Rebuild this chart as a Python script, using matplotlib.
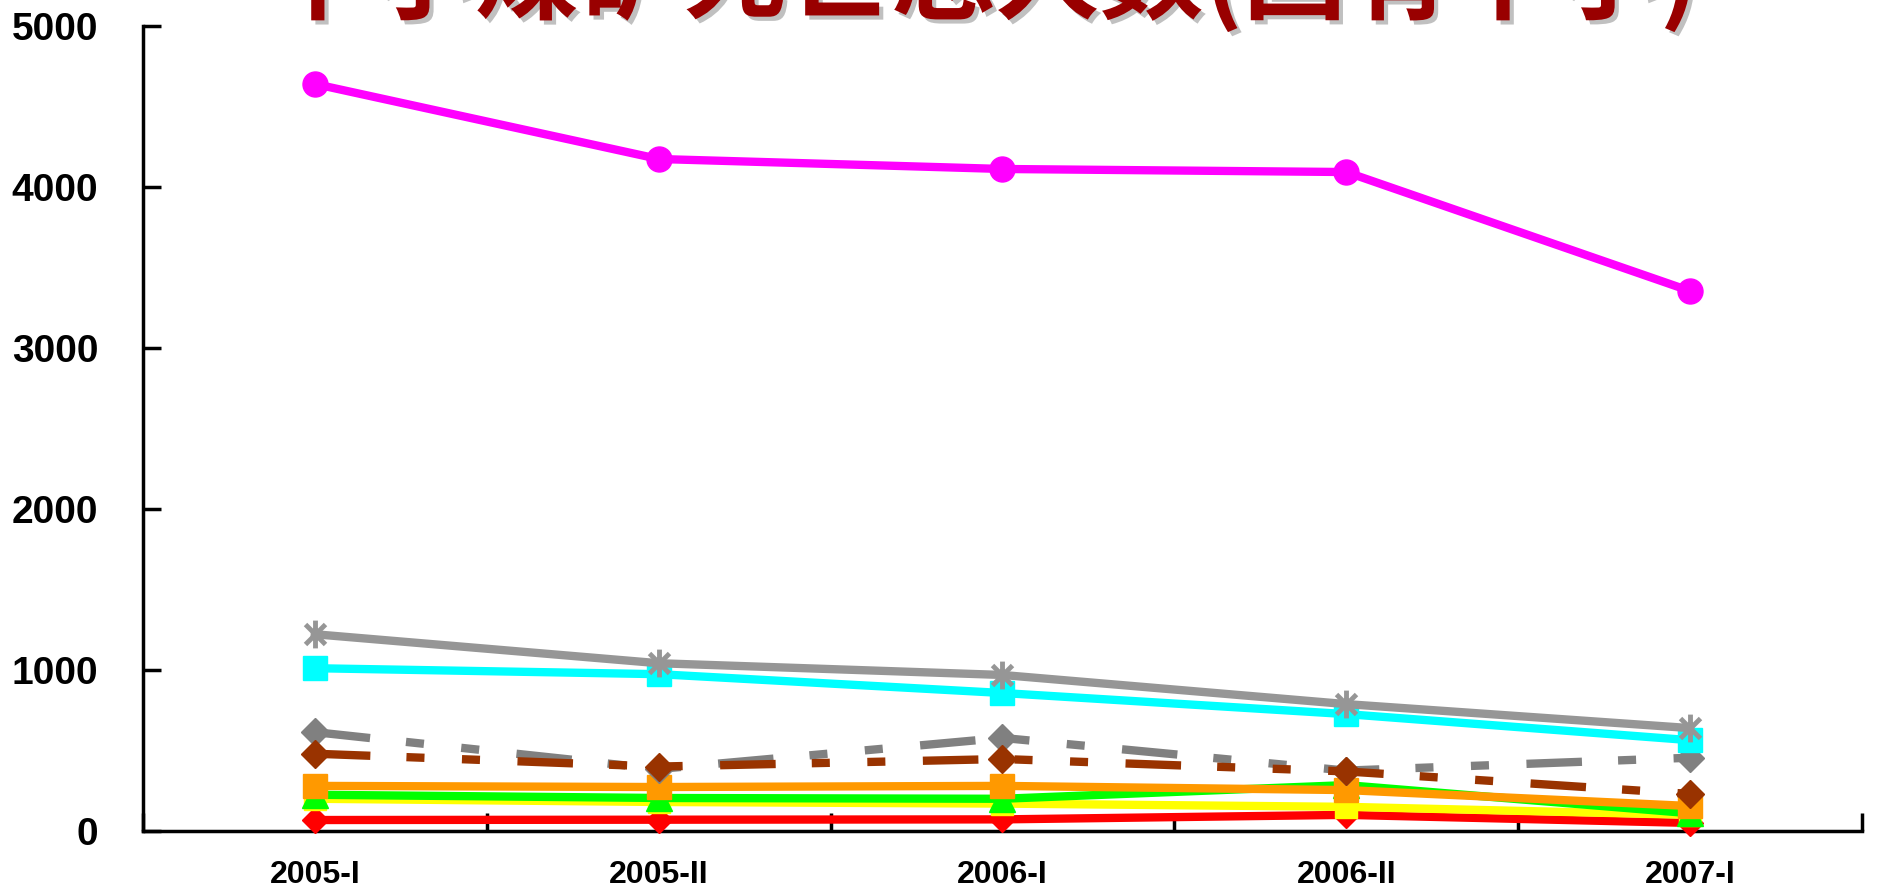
import numpy as np
import matplotlib
matplotlib.use("Agg")
import matplotlib.pyplot as plt
import matplotlib.patheffects as pe
from matplotlib.path import Path
from matplotlib.ticker import FixedLocator, NullFormatter

plt.rcParams['font.family'] = ['Liberation Sans', 'DejaVu Sans']
plt.rcParams['lines.scale_dashes'] = False

periods = ["2005-I", "2005-II", "2006-I", "2006-II", "2007-I"]

magenta_vals = [4640, 4174, 4112, 4093, 3354]
star_vals = [1222, 1042, 969, 788, 639]
cyan_vals = [1011, 974, 857, 726, 564]
grey_dash_vals = [614, 385, 578, 375, 455]
brown_dash_vals = [480, 400, 447, 370, 230]
orange_vals = [280, 273, 280, 254, 155]
green_vals = [225, 205, 200, 285, 110]
yellow_vals = [200, 180, 170, 150, 100]
red_vals = [68, 70, 72, 100, 50]

title_text = "中小煤矿死亡总人数(国有中小)"

# six-spoke asterisk like the Excel star marker
star = Path([(0, -1), (0, 1), (-0.72, -0.72), (0.72, 0.72), (-0.72, 0.72), (0.72, -0.72)],
            [Path.MOVETO, Path.LINETO, Path.MOVETO, Path.LINETO, Path.MOVETO, Path.LINETO])

fig = plt.figure(figsize=(18.78, 8.94), dpi=100)
ax = fig.add_axes([0.0761, 0.0705, 0.9154, 0.9004])

x = np.arange(len(periods))
lw = 6
dash = (0, (40, 26, 13, 27, 13, 27))

ax.plot(x, red_vals, color="#FF0000", lw=lw, marker="D", ms=13.5, zorder=3)
ax.plot(x, yellow_vals, color="#FFFF00", lw=lw, marker="s", ms=16, zorder=4)
ax.plot(x, green_vals, color="#00FF00", lw=lw, marker="^", ms=19, zorder=5)
ax.plot(x, orange_vals, color="#FF9900", lw=lw, marker="s", ms=17, zorder=6)
ax.plot(x, grey_dash_vals, color="#808080", lw=lw, ls=dash, dash_capstyle="butt",
        marker="D", ms=14, zorder=7)
ax.plot(x, brown_dash_vals, color="#993300", lw=lw, ls=dash, dash_capstyle="butt",
        marker="D", ms=14, zorder=8)
ax.plot(x, cyan_vals, color="#00FFFF", lw=lw, marker="s", ms=17, zorder=9)
ax.plot(x, star_vals, color="#969696", lw=lw, marker=star, ms=20, mew=3.5,
        mec="#969696", zorder=10)
ax.plot(x, magenta_vals, color="#FF00FF", lw=lw, marker="o", ms=18, zorder=11)

ax.set_xlim(-0.5, len(periods) - 0.5)
ax.set_ylim(0, 5000)
ax.set_yticks(np.arange(0, 5001, 1000))
ax.set_xticks(x)
ax.set_xticklabels(periods, fontsize=23, fontweight="bold")
ax.xaxis.set_minor_locator(FixedLocator(np.arange(-0.5, len(periods), 1.0)))
ax.xaxis.set_minor_formatter(NullFormatter())
ax.tick_params(axis="x", which="major", length=0, pad=21)
ax.tick_params(axis="x", which="minor", direction="in", length=13, width=2.5)
ax.tick_params(axis="y", direction="in", length=13, width=2.5, pad=32, labelsize=28)
for lab in ax.get_yticklabels():
    lab.set_fontweight("bold")

for side in ["top", "right"]:
    ax.spines[side].set_visible(False)
for side in ["left", "bottom"]:
    ax.spines[side].set_linewidth(2.5)
    ax.spines[side].set_clip_on(False)
for ln in ax.lines:
    ln.set_clip_on(False)

# title, cut off at the top edge as in the reference, with a grey shadow
fig.text(0.523, 0.963, title_text, ha="center", va="bottom", fontsize=75,
         fontweight="bold", color="#990000", family=["Noto Sans CJK SC", "DejaVu Sans"],
         path_effects=[pe.withSimplePatchShadow(offset=(3, -3), shadow_rgbFace="#C0C0C0",
                                                alpha=1.0)])

fig.savefig("out.png", dpi=100)
